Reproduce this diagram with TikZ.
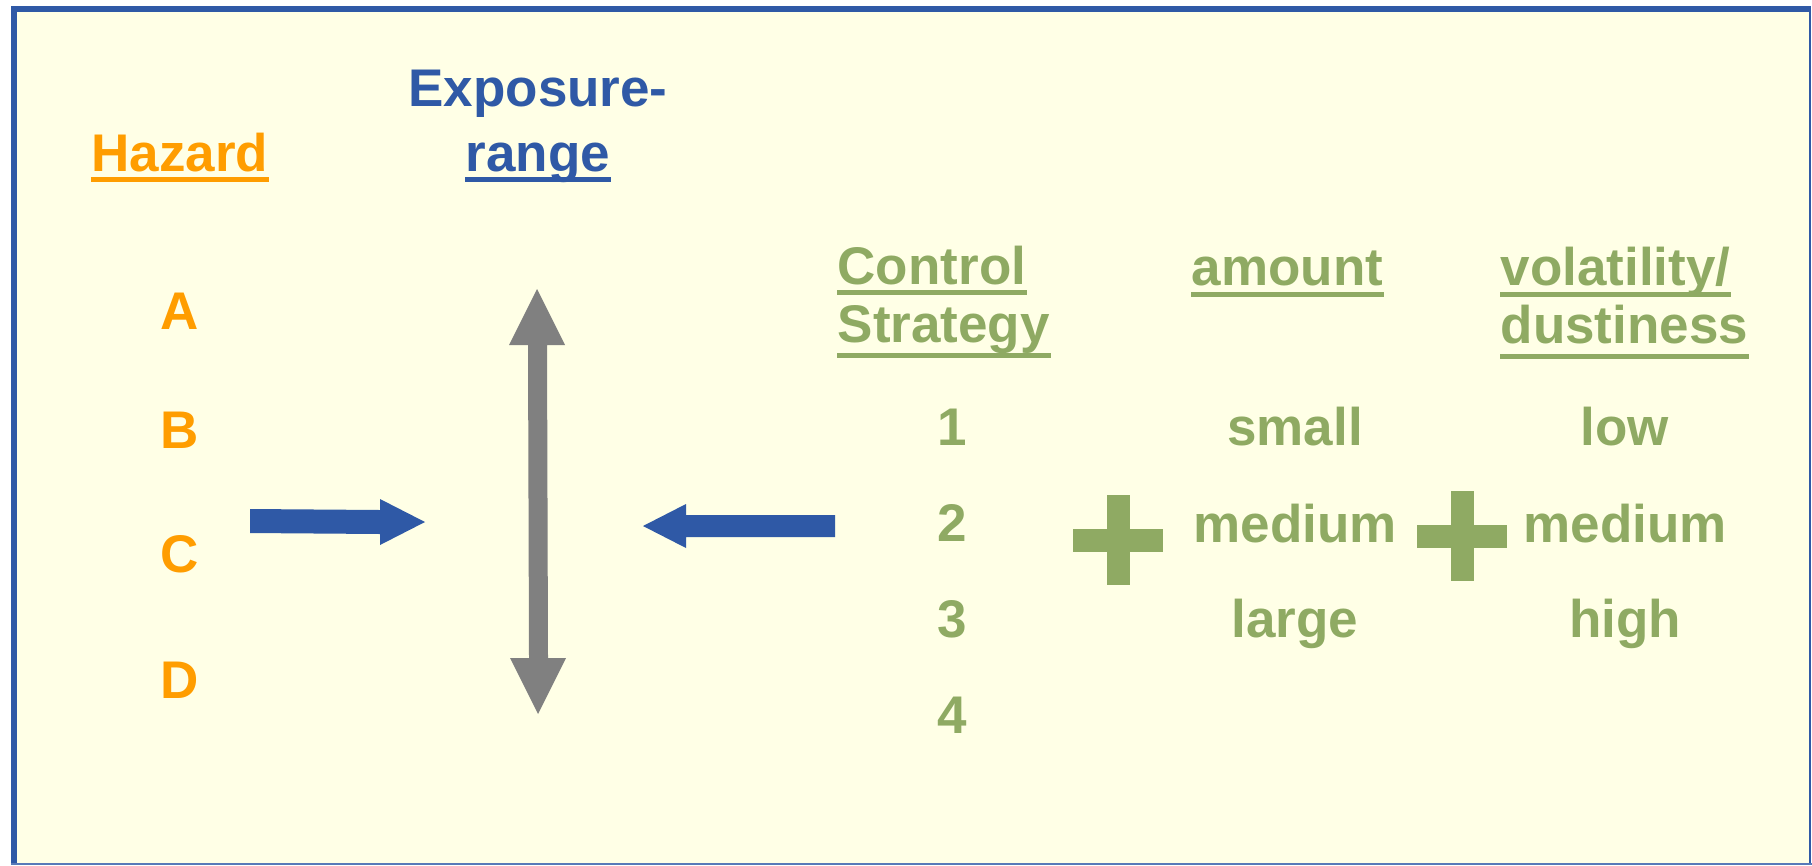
\documentclass[tikz,border=0pt]{standalone}
\usepackage{fontspec}
\setmainfont{Liberation Sans}
\definecolor{cream}{RGB}{255,255,230}
\definecolor{frameblue}{RGB}{47,89,166}
\definecolor{hazorange}{RGB}{255,157,0}
\definecolor{ctrlgreen}{RGB}{143,170,99}
\definecolor{arrgray}{RGB}{128,128,128}
\begin{document}
\begin{tikzpicture}[x=0.1mm,y=-0.1mm,
  txt/.style={inner sep=0pt, font=\fontsize{15.08pt}{18pt}\selectfont\bfseries},
  orangetxt/.style={txt, text=hazorange},
  bluetxt/.style={txt, text=frameblue},
  greentxt/.style={txt, text=ctrlgreen},
  uline/.style={line width=0.5mm},
  blockarrow/.style={fill=frameblue},
  plusfill/.style={fill=ctrlgreen}]
\useasboundingbox (0,0) rectangle (1812,865);
\fill[white] (0,0) rectangle (1812,865);
\fill[cream] (12,9) rectangle (1810,864);
% frame
\draw[frameblue, line width=0.6mm] (11,9) -- (1811,9);
\draw[frameblue, line width=0.55mm] (14,6) -- (14,865);
\draw[frameblue, line width=0.25mm] (1810,6) -- (1810,865);
\draw[frameblue!80, line width=0.15mm] (11,864) -- (1812,864);

% hazard column
\node[orangetxt, anchor=base] (hazard) at (180,171) {Hazard};
\draw[hazorange, uline] ([yshift=-0.8mm]hazard.base west) -- ([yshift=-0.8mm]hazard.base east);
\node[orangetxt, anchor=base] (hA) at (180,329) {A};
\node[orangetxt, anchor=base] (hB) at (180,448) {B};
\node[orangetxt, anchor=base] (hC) at (180,572) {C};
\node[orangetxt, anchor=base] (hD) at (180,698) {D};

% exposure range
\node[bluetxt, anchor=base] (expo) at (538,106) {Exposure-};
\node[bluetxt, anchor=base] (range) at (538,171) {range};
\draw[frameblue, uline] ([yshift=-0.8mm]range.base west) -- ([yshift=-0.8mm]range.base east);

% control strategy column
\node[greentxt, anchor=base west] (ctrl) at (837,284) {Control};
\node[greentxt, anchor=base west] (strat) at (837,342) {Strategy};
\draw[ctrlgreen, uline] ([yshift=-0.8mm]ctrl.base west) -- ([yshift=-0.8mm]ctrl.base east);
\draw[ctrlgreen, uline] ([yshift=-1.35mm]strat.base west) -- ([yshift=-1.35mm]strat.base east);
\node[greentxt, anchor=base] (n1) at (952,445) {1};
\node[greentxt, anchor=base] (n2) at (952,541) {2};
\node[greentxt, anchor=base] (n3) at (952,637) {3};
\node[greentxt, anchor=base] (n4) at (952,733) {4};

% amount column
\node[greentxt, anchor=base west] (amount) at (1191,285) {amount};
\draw[ctrlgreen, uline] ([yshift=-0.9mm]amount.base west) -- ([yshift=-0.9mm]amount.base east);
\node[greentxt, anchor=base] (small) at (1295,445) {small};
\node[greentxt, anchor=base] (amed) at (1295,542) {medium};
\node[greentxt, anchor=base] (large) at (1295,637) {large};

% volatility column
\node[greentxt, anchor=base west] (vola) at (1500,285) {volatility/};
\node[greentxt, anchor=base west] (dust) at (1500,343) {dustiness};
\draw[ctrlgreen, uline] ([yshift=-0.9mm]vola.base west) -- ([yshift=-0.9mm]vola.base east);
\draw[ctrlgreen, uline] ([yshift=-1.35mm]dust.base west) -- ([yshift=-1.35mm]dust.base east);
\node[greentxt, anchor=base] (low) at (1625,445) {low};
\node[greentxt, anchor=base] (vmed) at (1625,542) {medium};
\node[greentxt, anchor=base] (high) at (1625,637) {high};

% plus signs
\fill[plusfill] (1118-45,540-11.5) rectangle (1118+45,540+11.5);
\fill[plusfill] (1118-11.5,540-45) rectangle (1118+11.5,540+45);
\fill[plusfill] (1462-45,536-11.5) rectangle (1462+45,536+11.5);
\fill[plusfill] (1462-11.5,536-45) rectangle (1462+11.5,536+45);

% blue arrow from hazards
\fill[blockarrow] (250,509) -- (380,510) -- (380,499) -- (425,522) -- (380,545) -- (380,534) -- (250,533) -- cycle;
% blue arrow from control strategy
\fill[blockarrow] (643,526) -- (686,504) -- (686,515) -- (835,515) -- (835,537) -- (686,537) -- (686,548) -- cycle;
% grey double arrow (exposure range)
\fill[arrgray] (537,289) -- (565,345) -- (547,345) -- (548,658) -- (566,658) -- (538,714)
  -- (510,658) -- (529,658) -- (528,345) -- (509,345) -- cycle;
\end{tikzpicture}
\end{document}
